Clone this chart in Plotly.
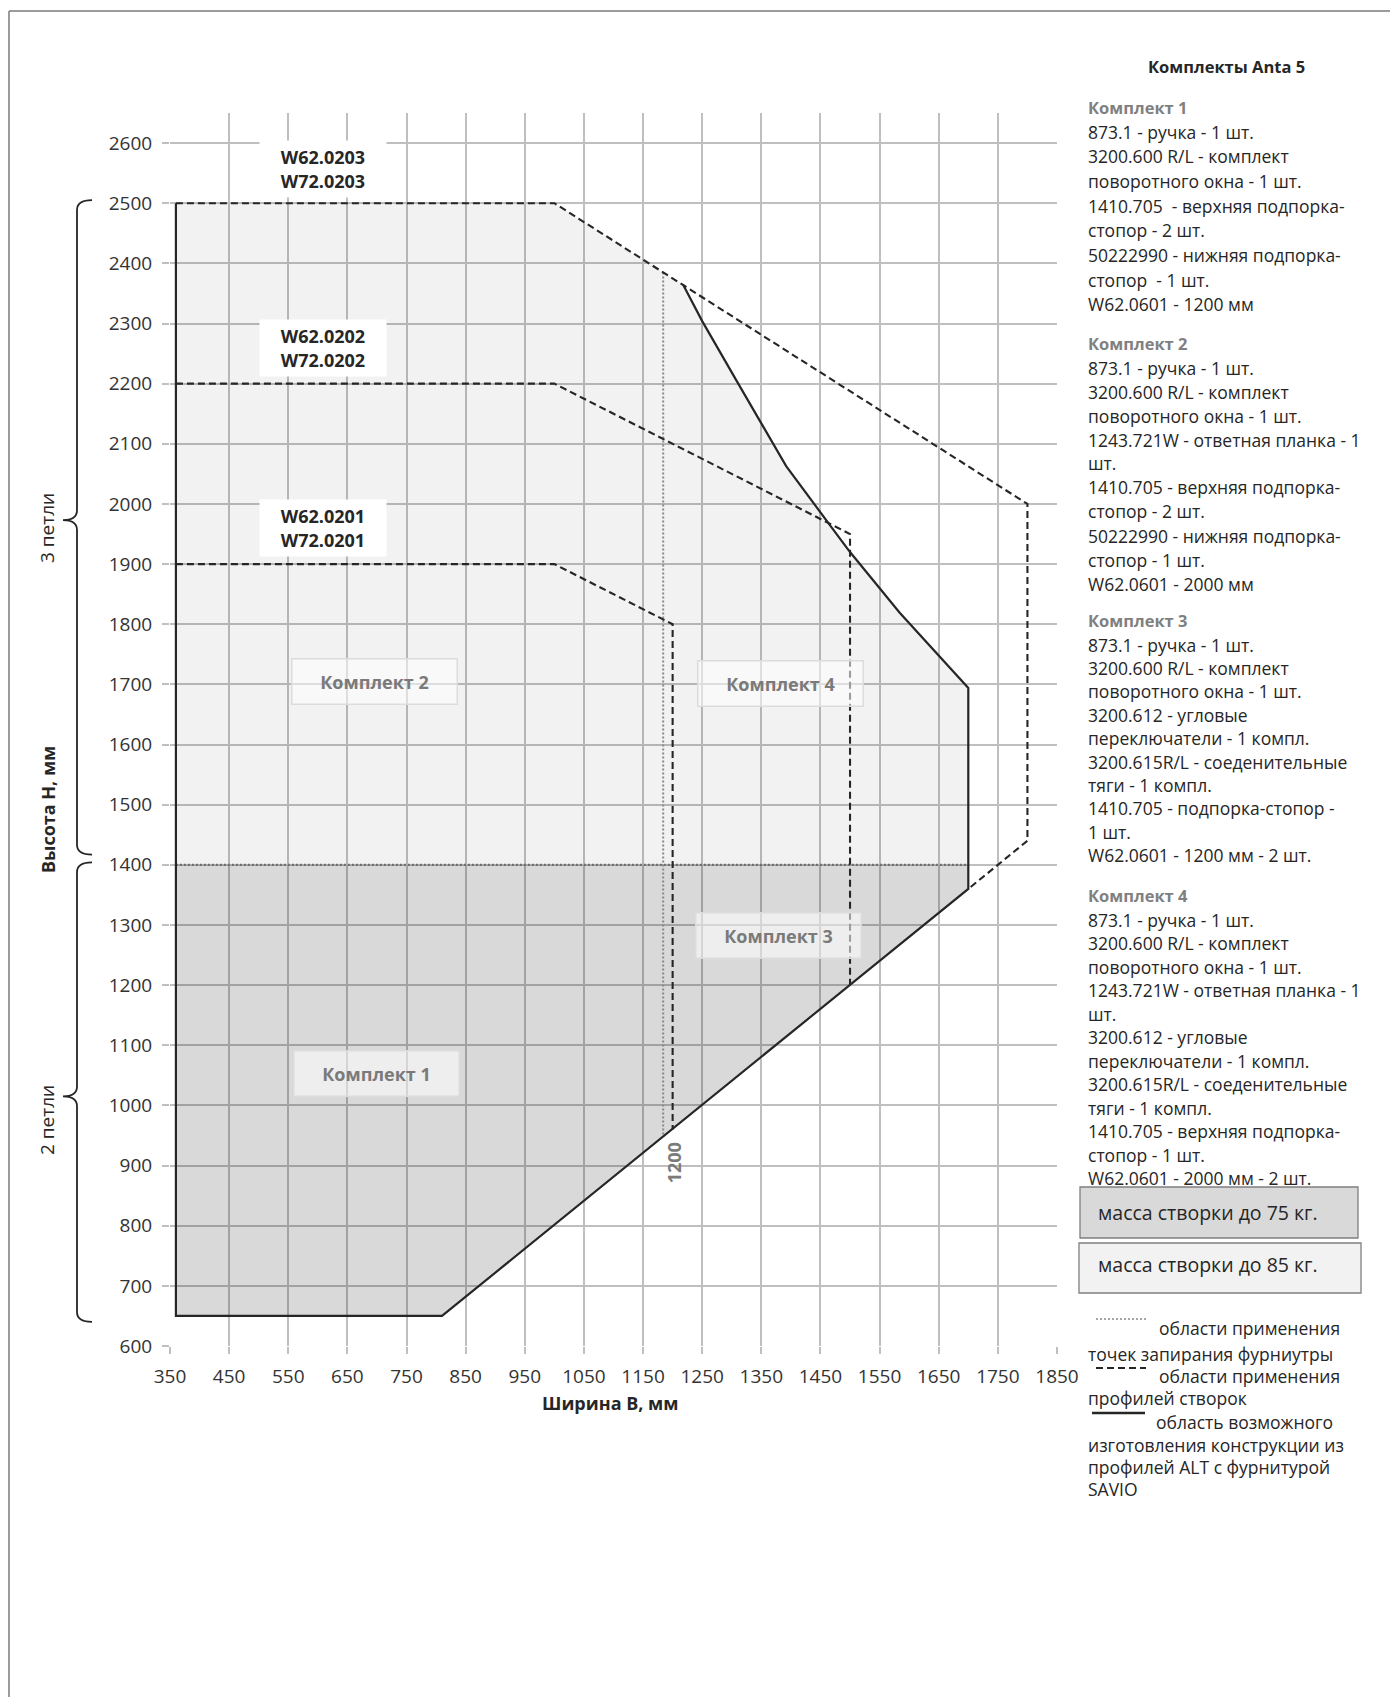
import plotly.graph_objects as go

# ---------------------------------------------------------------- data (mm)
# Sash size limits for Anta 5 hardware kits: width B vs height H.
W_MIN = 360            # narrowest sash
H_MIN = 650            # lowest sash
H_MASS_SPLIT = 1400    # above: sash up to 85 kg, below: up to 75 kg

# upper-right boundary of the buildable range (solid curve)
curve_x = [1218, 1250, 1308, 1392, 1465, 1500, 1584, 1700]
curve_y = [2364, 2304, 2205, 2063, 1966, 1920, 1819, 1694]

# right edge and lower diagonal of the buildable range
base_x = [1700, 1700, 810]
base_y = [1694, 1360, 650]

# application ranges of the sash profiles (dashed)
profile_names = ["W62.0203<br>W72.0203", "W62.0202<br>W72.0202", "W62.0201<br>W72.0201"]
profile_x = [[360, 1000, 1800, 1800, 1700],
             [360, 1000, 1500, 1500],
             [360, 1000, 1200, 1200]]
profile_y = [[2500, 2500, 2000, 1440, 1360],
             [2200, 2200, 1950, 1200],
             [1900, 1900, 1800, 960]]
profile_label_x = [608, 608, 608]
profile_label_y = [2557, 2259, 1960]

# application range of the locking points (dotted)
lock_x = [1184, 1184]
lock_y = [2385, 948]
lock_label = "1200"
lock_label_pos = (1202, 905)

# kit areas
kit_names = ["Комплект 1", "Комплект 2", "Комплект 3", "Комплект 4"]
kit_x = [699, 695, 1379, 1383]
kit_y = [1053, 1705, 1282, 1702]

# axis ticks
x_ticks = list(range(350, 1851, 100))
y_ticks = list(range(600, 2601, 100))
X_RANGE = [350, 1850]
Y_RANGE = [600, 2650]

# hinge groups (braces on the left): top, tip, bottom
hinge_labels = ["3 петли", "2 петли"]
hinge_spans = [(2505, 1973, 1417), (1404, 1015, 640)]

# kit specifications
kits_title = "Комплекты Anta 5"
kit_specs = [
    ["873.1 - ручка - 1 шт.", "3200.600 R/L - комплект", "поворотного окна - 1 шт.",
     "1410.705  - верхняя подпорка-", "стопор - 2 шт.", "50222990 - нижняя подпорка-",
     "стопор  - 1 шт.", "W62.0601 - 1200 мм"],
    ["873.1 - ручка - 1 шт.", "3200.600 R/L - комплект", "поворотного окна - 1 шт.",
     "1243.721W - ответная планка - 1", "шт.", "1410.705 - верхняя подпорка-",
     "стопор - 2 шт.", "50222990 - нижняя подпорка-", "стопор - 1 шт.", "W62.0601 - 2000 мм"],
    ["873.1 - ручка - 1 шт.", "3200.600 R/L - комплект", "поворотного окна - 1 шт.",
     "3200.612 - угловые", "переключатели - 1 компл.", "3200.615R/L - соеденительные",
     "тяги - 1 компл.", "1410.705 - подпорка-стопор -", "1 шт.", "W62.0601 - 1200 мм - 2 шт."],
    ["873.1 - ручка - 1 шт.", "3200.600 R/L - комплект", "поворотного окна - 1 шт.",
     "1243.721W - ответная планка - 1", "шт.", "3200.612 - угловые",
     "переключатели - 1 компл.", "3200.615R/L - соеденительные", "тяги - 1 компл.",
     "1410.705 - верхняя подпорка-", "стопор - 1 шт.", "W62.0601 - 2000 мм - 2 шт."],
]
mass_labels = ["масса створки до 75 кг.", "масса створки до 85 кг."]

# ---------------------------------------------------------------- page layout
W, H = 1390, 1706
ML, MR, MT, MB = 170, 333, 113, 360
FONT = "Open Sans, Noto Sans, sans-serif"
INK = "#262626"
GRID = "#bfbfbf"
KIT_GREY = "#7a7a7a"


def px(xp):
    """page pixel x -> paper x"""
    return (xp - ML) / (W - ML - MR)


def py(yp):
    """page pixel y -> paper y"""
    return 1 - (yp - MT) / (H - MT - MB)


def vy(v):
    """data height -> paper y"""
    return (v - Y_RANGE[0]) / (Y_RANGE[1] - Y_RANGE[0])


def note(x, y, text, size=17, color=INK, xanchor="center", angle=0, **kw):
    """text placed by page pixel position"""
    return dict(x=px(x), y=py(y), xref="paper", yref="paper", text=text, showarrow=False,
                xanchor=xanchor, yanchor="middle", textangle=angle,
                font=dict(size=size, color=color, family=FONT), **kw)


fig = go.Figure()

# fills: light (<=85 kg) above the split, darker (<=75 kg) below it
light_x = [W_MIN, W_MIN, profile_x[0][1]] + curve_x + [base_x[0]]
light_y = [H_MASS_SPLIT, profile_y[0][0], profile_y[0][1]] + curve_y + [H_MASS_SPLIT]
fig.add_trace(go.Scatter(x=light_x, y=light_y, fill="toself", mode="lines",
                         fillcolor="rgba(0,0,0,0.05)", line=dict(color="rgba(0,0,0,0)", width=0),
                         hoverinfo="skip", showlegend=False))
dark_x = [W_MIN, W_MIN, base_x[0], base_x[1], base_x[2]]
dark_y = [H_MIN, H_MASS_SPLIT, H_MASS_SPLIT, base_y[1], base_y[2]]
fig.add_trace(go.Scatter(x=dark_x, y=dark_y, fill="toself", mode="lines",
                         fillcolor="rgba(0,0,0,0.15)", line=dict(color="rgba(0,0,0,0)", width=0),
                         hoverinfo="skip", showlegend=False))

# dotted: mass split and locking points
fig.add_trace(go.Scatter(x=[W_MIN, base_x[0]], y=[H_MASS_SPLIT, H_MASS_SPLIT], mode="lines",
                         line=dict(color="#6e6e6e", width=2.2, dash="2px,2px"),
                         hoverinfo="skip", showlegend=False))
fig.add_trace(go.Scatter(x=lock_x, y=lock_y, mode="lines",
                         line=dict(color="#8a8a8a", width=2, dash="2px,2px"),
                         hoverinfo="skip", showlegend=False))

# dashed: sash profile ranges
for xs, ys in zip(profile_x, profile_y):
    fig.add_trace(go.Scatter(x=xs, y=ys, mode="lines",
                             line=dict(color=INK, width=2.1, dash="7px,4px"),
                             hoverinfo="skip", showlegend=False))

# solid: buildable range
solid_x = curve_x + base_x[1:] + [W_MIN, W_MIN]
solid_y = curve_y + base_y[1:] + [H_MIN, profile_y[0][0]]
fig.add_trace(go.Scatter(x=solid_x, y=solid_y, mode="lines",
                         line=dict(color=INK, width=2.2),
                         hoverinfo="skip", showlegend=False))

ann = []
# profile labels in white boxes
for name, lx, ly in zip(profile_names, profile_label_x, profile_label_y):
    ann.append(dict(x=lx, y=ly, xref="x", yref="y", xanchor="center", yanchor="middle",
                    text="<b>" + name.replace("<br>", "</b><br><b>") + "</b>",
                    showarrow=False, bgcolor="white", width=124, height=54,
                    font=dict(size=18, color=INK, family=FONT)))
# kit labels
for name, kx, ky in zip(kit_names, kit_x, kit_y):
    ann.append(dict(x=kx, y=ky, xref="x", yref="y", xanchor="center", yanchor="middle",
                    text="<b>" + name + "</b>",
                    showarrow=False, bgcolor="rgba(255,255,255,0.55)", bordercolor="#dcdcdc",
                    borderwidth=1.5, width=162, height=42,
                    font=dict(size=18, color=KIT_GREY, family=FONT)))
# locking-point width label
ann.append(dict(x=lock_label_pos[0], y=lock_label_pos[1], xref="x", yref="y",
                xanchor="center", yanchor="middle",
                text="<b>" + lock_label + "</b>", textangle=-90, showarrow=False,
                font=dict(size=18, color=KIT_GREY, family=FONT)))

# axis titles
ann.append(note(610, 1403, "<b>Ширина B, мм</b>", size=18))
ann.append(note(48, 810, "<b>Высота Н, мм</b>", size=18, angle=-90))

shapes = []
# hinge braces
hinge_text_y = [528, 1120]
for label, (yt, ym, yb), ty in zip(hinge_labels, hinge_spans, hinge_text_y):
    xl, xt, xe = px(77), px(63), px(92)
    r = 0.008
    a, m, b = vy(yt), vy(ym), vy(yb)
    path = (f"M {xe},{a} Q {xl},{a} {xl},{a - r} L {xl},{m + r} Q {xl},{m} {xt},{m} "
            f"Q {xl},{m} {xl},{m - r} L {xl},{b + r} Q {xl},{b} {xe},{b}")
    shapes.append(dict(type="path", path=path, xref="paper", yref="paper",
                       line=dict(color=INK, width=1.8)))
    ann.append(note(47, ty, label, size=19, angle=-90))

# kit specification text on the right
TX = 1086
ann.append(note(1226, 67, "<b>" + kits_title + "</b>", size=16.5))
head_y = [107, 343, 620, 895]
line_step = [24.7, 24.0, 23.4, 23.5]
for i, (spec, hy, step) in enumerate(zip(kit_specs, head_y, line_step)):
    ann.append(note(TX, hy, "<b>" + kit_names[i] + "</b>", size=16.5, color="#808080",
                    xanchor="left"))
    for j, line in enumerate(spec):
        ann.append(note(TX, hy + 24.5 + j * step, line, size=17.5, xanchor="left"))

# mass legend boxes
mass_boxes = [(1080, 1187, 1358, 1238, "#d9d9d9", 1212), (1079, 1243, 1361, 1293, "#f2f2f2", 1264)]
for label, (x0, y0, x1, y1, col, ty) in zip(mass_labels, mass_boxes):
    shapes.append(dict(type="rect", xref="paper", yref="paper", x0=px(x0), x1=px(x1),
                       y0=py(y1), y1=py(y0), fillcolor=col, line=dict(color="#7f7f7f", width=1.3)))
    ann.append(note(1096, ty, label, size=19.5, xanchor="left"))

# line-style legend
shapes.append(dict(type="line", xref="paper", yref="paper", x0=px(1096), x1=px(1146),
                   y0=py(1319), y1=py(1319), line=dict(color="#8a8a8a", width=1.5, dash="2px,2px")))
shapes.append(dict(type="line", xref="paper", yref="paper", x0=px(1096), x1=px(1146),
                   y0=py(1368), y1=py(1368), line=dict(color=INK, width=2, dash="7px,4px")))
shapes.append(dict(type="line", xref="paper", yref="paper", x0=px(1092), x1=px(1145),
                   y0=py(1413), y1=py(1413), line=dict(color=INK, width=2.5)))
legend_lines = [
    (1157, 1328, "области применения"), (TX, 1354, "точек запирания фурниутры"),
    (1157, 1376, "области применения"), (TX, 1398, "профилей створок"),
    (1154, 1422, "область возможного"), (TX, 1445, "изготовления конструкции из"),
    (TX, 1467, "профилей ALT с фурнитурой"), (TX, 1489, "SAVIO"),
]
for lx, ly, text in legend_lines:
    ann.append(note(lx, ly, text, size=17.5, xanchor="left"))

# page frame
shapes.append(dict(type="line", xref="paper", yref="paper", x0=px(9), x1=px(W), y0=py(11), y1=py(11),
                   line=dict(color="#7a7a7a", width=1.5)))
shapes.append(dict(type="line", xref="paper", yref="paper", x0=px(9), x1=px(9), y0=py(11), y1=py(1697),
                   line=dict(color="#7a7a7a", width=1.5)))

axis_common = dict(showgrid=True, gridcolor=GRID, gridwidth=1.5, zeroline=False, showline=False,
                   ticks="outside", ticklen=7, tickcolor=GRID, tickwidth=1.5,
                   tickfont=dict(size=19, color="#333333", family=FONT))
fig.update_layout(
    width=W, height=H, autosize=False,
    margin=dict(l=ML, r=MR, t=MT, b=MB, pad=0),
    paper_bgcolor="white", plot_bgcolor="white",
    font=dict(family=FONT, color=INK),
    xaxis=dict(range=X_RANGE, tickvals=x_ticks, ticklabelstandoff=6, **axis_common),
    yaxis=dict(range=Y_RANGE, tickvals=y_ticks, ticklabelstandoff=6, **axis_common),
    annotations=ann, shapes=shapes, showlegend=False,
)

fig.write_html("out.html")
